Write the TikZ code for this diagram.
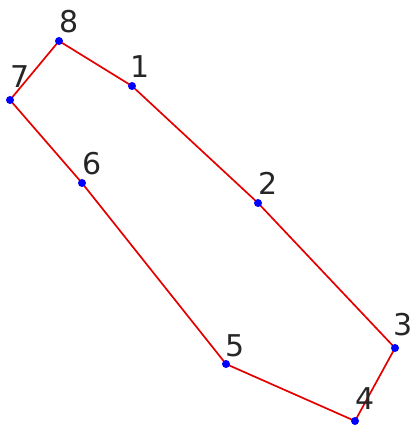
\documentclass[tikz,border=0pt]{standalone}
\usepackage{fontspec}
\setmainfont{DejaVu Sans}
\begin{document}
\begin{tikzpicture}[x=1pt,y=-1pt,
  pt/.style={circle,fill=blue,inner sep=0pt,minimum size=8pt},
  lbl/.style={font=\fontsize{30}{30}\selectfont,inner sep=0pt,text=black!85},
  edge/.style={draw=red!90!black,line width=1.7pt}]
\useasboundingbox (0,0) rectangle (414,431);
\coordinate (p1) at (132,86);
\coordinate (p2) at (258,203);
\coordinate (p3) at (395,348);
\coordinate (p4) at (355,421);
\coordinate (p5) at (226,364);
\coordinate (p6) at (82,183);
\coordinate (p7) at (10,100);
\coordinate (p8) at (59,41);
\draw[edge] (p1) -- (p2) -- (p3) -- (p4) -- (p5) -- (p6) -- (p7) -- (p8) -- cycle;
\foreach \i in {1,...,8} { \node[pt] (d\i) at (p\i) {}; }
\node[lbl] (l1) at (140,67) {1};
\node[lbl] (l2) at (268,183) {2};
\node[lbl] (l3) at (403,325) {3};
\node[lbl] (l4) at (365,399) {4};
\node[lbl] (l5) at (235,346) {5};
\node[lbl] (l6) at (92,164) {6};
\node[lbl] (l7) at (20,77) {7};
\node[lbl] (l8) at (69,22) {8};
\end{tikzpicture}
\end{document}
